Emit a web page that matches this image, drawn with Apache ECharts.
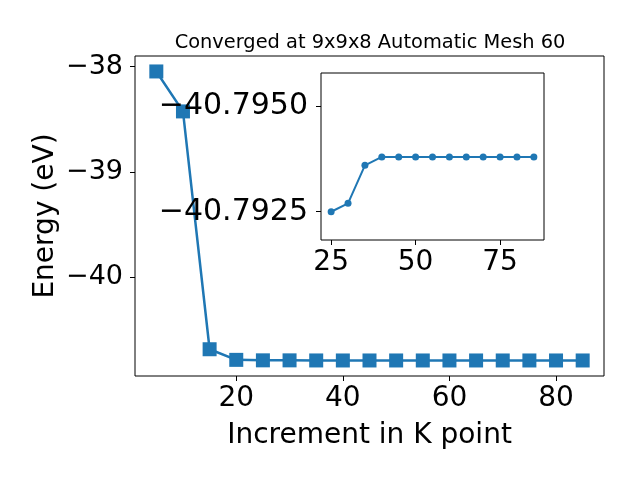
<!DOCTYPE html>
<html><head><meta charset="utf-8">
<script src="https://cdn.jsdelivr.net/npm/echarts@6/dist/echarts.min.js"></script>
<style>html,body{margin:0;padding:0;background:#fff}#c{width:640px;height:480px}</style>
</head><body><div id="c"></div>
<script>
const titleText = 'Converged at 9x9x8 Automatic Mesh 60';
const xLabel = 'Increment in K point';
const yLabel = 'Energy (eV)';
const kpoints = [5,10,15,20,25,30,35,40,45,50,55,60,65,70,75,80,85];
const energy = [-38.045,-38.425,-40.687,-40.788,-40.7925,-40.7927,-40.7936,-40.7938,-40.7938,-40.7938,-40.7938,-40.7938,-40.7938,-40.7938,-40.7938,-40.7938,-40.7938];
const insetStart = 25;
const mainXTicks = [20,40,60,80];
const mainYTicks = [-40,-39,-38];
const insetXTicks = [25,50,75];
const insetYTicks = [-40.795,-40.7925];

const mainData = kpoints.map((k,i)=>[k,energy[i]]);
const insetData = kpoints.map((k,i)=>[k,energy[i]]).filter(d=>d[0]>=insetStart);
const fmt = (v,d) => (v<0?'\u2212':'') + (d==null?String(Math.abs(v)):Math.abs(v).toFixed(d));
const FONT = 'DejaVu Sans';
const C = '#1f77b4';
const FS = 28;
const chart = echarts.init(document.getElementById('c'), null, {renderer:'canvas'});
const lab = (m, extra) => Object.assign({color:'#000', fontFamily:FONT, fontSize:FS, margin:m}, extra||{});
chart.setOption({
  animation:false,
  backgroundColor:'#fff',
  title:{text:titleText, left:365, top:28, textAlign:'center',
    textStyle:{fontFamily:FONT, fontSize:19.4, fontWeight:'normal', color:'#000'}},
  grid:[
    {left:135, top:56, width:469, height:320, show:true, borderColor:'#000', borderWidth:1, backgroundColor:'transparent'},
    {left:321, top:73, width:223, height:167, show:true, borderColor:'#000', borderWidth:1, backgroundColor:'#fff', z:5}
  ],
  xAxis:[
    {type:'value', gridIndex:0, min:1, max:89, splitLine:{show:false},
     axisLine:{show:false},
     axisTick:{show:true, length:5, lineStyle:{color:'#000'}, customValues:mainXTicks},
     axisLabel:lab(9,{customValues:mainXTicks}),
     name:xLabel, nameLocation:'middle', nameGap:46, nameMoveOverlap:false,
     nameTextStyle:{fontFamily:FONT, fontSize:FS, color:'#000'}},
    {type:'value', gridIndex:1, min:22, max:88, splitLine:{show:false}, z:6,
     axisLine:{show:false},
     axisTick:{show:true, length:5, lineStyle:{color:'#000'}, customValues:insetXTicks},
     axisLabel:lab(9,{customValues:insetXTicks})}
  ],
  yAxis:[
    {type:'value', gridIndex:0, min:-40.9415, max:-37.898, splitLine:{show:false},
     axisLine:{show:false},
     axisTick:{show:true, length:5, lineStyle:{color:'#000'}, customValues:mainYTicks},
     axisLabel:lab(12,{fontSize:27, customValues:mainYTicks, formatter:v=>fmt(v)}),
     name:yLabel, nameLocation:'middle', nameGap:75, nameRotate:90, nameMoveOverlap:false,
     nameTextStyle:{fontFamily:FONT, fontSize:FS, color:'#000'}},
    {type:'value', gridIndex:1, inverse:true, min:-40.79579, max:-40.79183, splitLine:{show:false}, z:6,
     axisLine:{show:false},
     axisTick:{show:true, length:5, lineStyle:{color:'#000'}, customValues:insetYTicks},
     axisLabel:lab(13,{fontSize:30, customValues:insetYTicks, formatter:v=>fmt(v,4)})}
  ],
  series:[
    {type:'line', xAxisIndex:0, yAxisIndex:0, data:mainData, symbol:'rect', symbolSize:14,
     lineStyle:{color:C, width:2.5}, itemStyle:{color:C}, z:2},
    {type:'line', xAxisIndex:1, yAxisIndex:1, data:insetData, symbol:'circle', symbolSize:7,
     lineStyle:{color:C, width:2}, itemStyle:{color:C}, z:7}
  ]
});
</script></body></html>
